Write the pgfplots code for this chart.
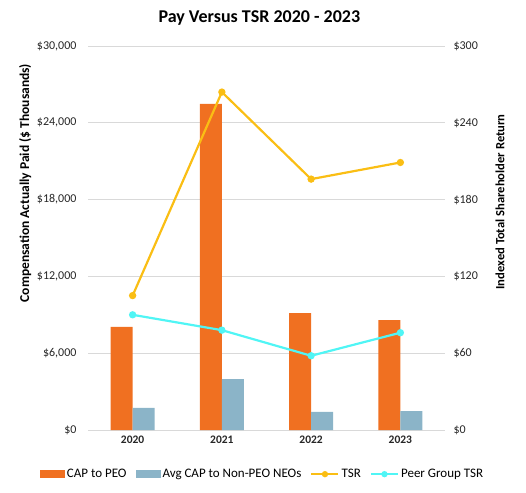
\documentclass[border=0pt]{standalone}
\usepackage{fontspec}
\setmainfont{Carlito}
\usepackage{pgfplots}
\pgfplotsset{compat=1.18}
\definecolor{capeo}{RGB}{240,112,33}
\definecolor{capneo}{RGB}{139,180,200}
\definecolor{tsrc}{RGB}{250,190,20}
\definecolor{peerc}{RGB}{80,245,245}
\definecolor{gridc}{RGB}{217,217,217}

\pgfplotsset{
  common/.style={
    scale only axis, width=357pt, height=384pt,
    xmin=-0.5, xmax=3.5,
    axis line style={draw=none},
    major tick length=0pt,
    scaled y ticks=false,
    tick label style={font=\fontsize{12}{14}\selectfont, text=black!85},
  },
}

\begin{document}
\begin{tikzpicture}
\useasboundingbox (-88pt,-62pt) rectangle (438pt,430pt);
% left axis: bars
\begin{axis}[common,
  at={(0pt,0pt)}, anchor=south west,
  ybar=0pt, bar width=22pt,
  ymin=0, ymax=30000,
  ytick={0,6000,12000,18000,24000,30000},
  yticklabels={\$0,\$6{,}000,\$12{,}000,\$18{,}000,\$24{,}000,\$30{,}000},
  yticklabel style={xshift=-8pt},
  ymajorgrids, grid style={gridc, line width=0.8pt},
  xtick={0,1,2,3},
  xticklabels={2020,2021,2022,2023},
  xticklabel style={font=\bfseries\fontsize{11.5}{13}\selectfont, yshift=-2pt},
  ylabel={Compensation Actually Paid (\$ Thousands)},
  ylabel style={font=\bfseries\fontsize{13.5}{15}\selectfont, at={(axis description cs:-0.176,0.643)}, anchor=center},
  title={Pay Versus TSR 2020 - 2023},
  title style={font=\bfseries\fontsize{18}{21}\selectfont, at={(axis description cs:0.48,1)}, anchor=center, yshift=22pt},
]
\addplot[fill=capeo, draw=none] coordinates {(0,8050) (1,25470) (2,9140) (3,8590)};
\addplot[fill=capneo, draw=none] coordinates {(0,1720) (1,3980) (2,1410) (3,1480)};
\end{axis}
% right axis: lines
\begin{axis}[common,
  at={(0pt,0pt)}, anchor=south west,
  axis y line*=right, axis x line=none,
  ymin=0, ymax=300,
  ytick={0,60,120,180,240,300},
  yticklabels={\$0,\$60,\$120,\$180,\$240,\$300},
  yticklabel style={xshift=5pt},
  ylabel={Indexed Total Shareholder Return},
  ylabel style={font=\bfseries\fontsize{12.6}{15}\selectfont, at={(axis description cs:1.154,0.594)}, anchor=center},
  legend columns=4,
  legend style={draw=none, fill=none, at={(0.489,-0.115)}, anchor=center,
    font=\fontsize{13}{15}\selectfont,
    /tikz/every odd column/.append style={column sep=0pt},
    /tikz/every even column/.append style={column sep=7pt}},
  legend image code/.code={
    \draw[#1] (0pt,0pt) -- (27pt,0pt);
    \fill[#1] (13.5pt,0pt) circle (2pt);
  },
]
\addlegendimage{draw=none, fill=capeo, legend image code/.code={\fill[capeo] (0pt,-4pt) rectangle (25pt,4pt);}}
\addlegendentry{CAP to PEO}
\addlegendimage{draw=none, fill=capneo, legend image code/.code={\fill[capneo] (0pt,-4pt) rectangle (25pt,4pt);}}
\addlegendentry{Avg CAP to Non-PEO NEOs}
\addplot[tsrc, line width=2.2pt, mark=*, mark size=2.5pt] coordinates {(0,105) (1,264) (2,196) (3,209)};
\addlegendentry{TSR}
\addplot[peerc, line width=2.2pt, mark=*, mark size=2.5pt] coordinates {(0,90) (1,78) (2,58) (3,76)};
\addlegendentry{Peer Group TSR}
\end{axis}
\end{tikzpicture}
\end{document}
